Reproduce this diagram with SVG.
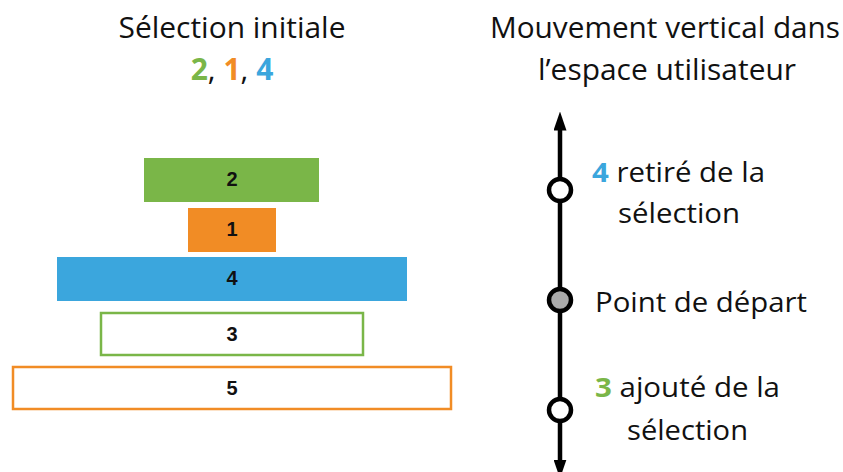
<svg xmlns="http://www.w3.org/2000/svg" width="843" height="472" viewBox="0 0 843 472">
<style>
.t{font-family:"Open Sans","Noto Sans",sans-serif;fill:#111;}
.h{font-size:30px;text-anchor:middle;}
.l{font-size:27px;}
.b{font-family:"Liberation Sans",Arial,sans-serif;font-weight:bold;font-size:20px;text-anchor:middle;fill:#111;}
.g{fill:#7AB648;font-weight:bold;}
.o{fill:#F18C25;font-weight:bold;}
.c{fill:#3BA6DD;font-weight:bold;}
.axis{stroke:#000;stroke-width:4.5;fill:none;}
.dot{stroke:#000;stroke-width:4.5;fill:#fff;}
</style>
<defs>
<marker id="ah" viewBox="0 0 19 13" refX="0.5" refY="6.5" markerWidth="19" markerHeight="13" orient="auto-start-reverse" markerUnits="userSpaceOnUse">
<path d="M0,0 L19,6.5 L0,13 z" fill="#000"/>
</marker>
</defs>
<g id="titles">
<text class="t h" x="232" y="38" textLength="227" lengthAdjust="spacingAndGlyphs">Sélection initiale</text>
<text class="t h" x="232" y="80"><tspan class="g">2</tspan>, <tspan class="o">1</tspan>, <tspan class="c">4</tspan></text>
<text class="t h" x="665" y="38" textLength="350" lengthAdjust="spacingAndGlyphs">Mouvement vertical dans</text>
<text class="t h" x="667" y="80" textLength="258" lengthAdjust="spacingAndGlyphs">l’espace utilisateur</text>
</g>
<g id="box2"><rect x="144" y="158" width="175" height="44" fill="#7AB648"/><text class="b" x="232" y="186">2</text></g>
<g id="box1"><rect x="188" y="208" width="88" height="44" fill="#F18C25"/><text class="b" x="232" y="236">1</text></g>
<g id="box4"><rect x="57" y="257" width="350" height="44" fill="#3BA6DD"/><text class="b" x="232" y="285">4</text></g>
<g id="box3"><rect x="101" y="313" width="262" height="42" fill="#fff" stroke="#7AB648" stroke-width="2.5"/><text class="b" x="232" y="341">3</text></g>
<g id="box5"><rect x="13" y="367" width="438" height="42" fill="#fff" stroke="#F18C25" stroke-width="2.5"/><text class="b" x="232" y="395">5</text></g>
<g id="connectors">
<line class="axis" x1="560" y1="460" x2="560" y2="130" marker-end="url(#ah)" marker-start="url(#ah)"/>
</g>
<g id="p-remove"><circle class="dot" cx="560" cy="190" r="11"/>
<text class="t l" x="592" y="182" textLength="173" lengthAdjust="spacingAndGlyphs"><tspan class="c">4</tspan> retiré de la</text>
<text class="t l" x="618" y="223" textLength="122" lengthAdjust="spacingAndGlyphs">sélection</text></g>
<g id="p-start"><circle class="dot" cx="560" cy="300" r="11" style="fill:#AAAAAA"/>
<text class="t l" x="595" y="312" textLength="212" lengthAdjust="spacingAndGlyphs">Point de départ</text></g>
<g id="p-add"><circle class="dot" cx="560" cy="410" r="11"/>
<text class="t l" x="595" y="397" textLength="185" lengthAdjust="spacingAndGlyphs"><tspan class="g">3</tspan> ajouté de la</text>
<text class="t l" x="627" y="440" textLength="121" lengthAdjust="spacingAndGlyphs">sélection</text></g>
</svg>
